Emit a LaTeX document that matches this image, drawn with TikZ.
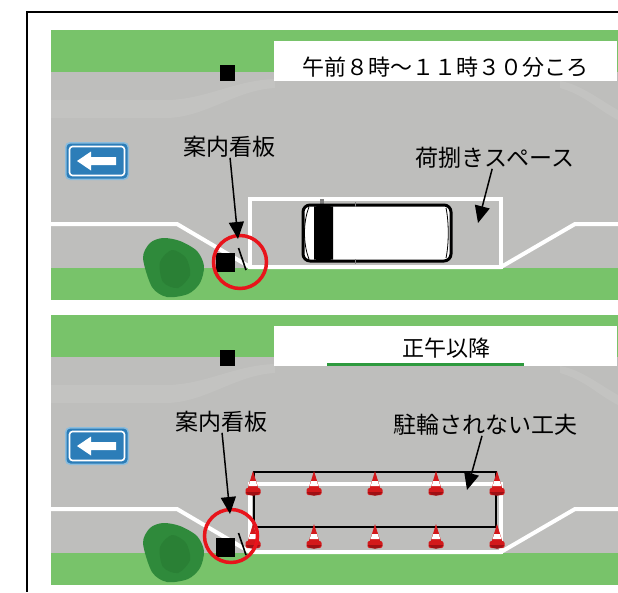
\documentclass[tikz,border=0pt]{standalone}
\usepackage{fontspec}
\newfontfamily\jpfont{Noto Sans CJK JP}
\usetikzlibrary{arrows.meta,positioning,calc}

\definecolor{grass}{HTML}{78C36A}
\definecolor{road}{HTML}{BEBEBC}
\definecolor{roadlight}{HTML}{C3C3C1}
\definecolor{bush}{HTML}{2F8A3B}
\definecolor{bushdark}{HTML}{2A8035}
\definecolor{signblue}{HTML}{2C7DB8}
\definecolor{signrim}{HTML}{8ABCDD}
\definecolor{ringred}{HTML}{E8141B}
\definecolor{conered}{HTML}{D3191B}
\definecolor{conedark}{HTML}{9E1014}
\definecolor{bardark}{HTML}{2E9A3E}

\tikzset{
  note/.style = {font=\jpfont\fontsize{23pt}{25pt}\selectfont, inner sep=0pt},
  titletext/.style = {font=\jpfont\fontsize{22pt}{24pt}\selectfont, inner sep=0pt},
  titlebox/.style = {fill=white, inner sep=0pt, minimum width=343pt, minimum height=40pt},
  kerb/.style = {white, line width=4pt},
  pointer/.style = {-{Triangle[length=17pt,width=15pt]}, line width=1.5pt},
  ring/.style = {circle, draw=ringred, line width=3.5pt, inner sep=0pt, minimum size=53pt},
  pylon/.pic = {
    \fill[conered] (0,0) -- (-5.5,18) -- (5.5,18) -- cycle;
    \fill[conered, rounded corners=2pt] (-7.5,17) rectangle (7.5,24);
    \fill[conedark] (-7.5,21) .. controls (-4,26) and (4,26) .. (7.5,21) -- cycle;
    \fill[white] (-2.8,10) -- (2.8,10) -- (4.3,15) -- (-4.3,15) -- cycle;
  }
}

\begin{document}
\begin{tikzpicture}[x=1pt,y=-1pt]
\useasboundingbox (0,0) rectangle (618,592);
\draw[line width=2pt] (618,11.5) -- (26.5,11.5) -- (26.5,592);

% street plan, drawn once for the morning and once for the afternoon
\foreach \p/\dy in {am/0,pm/285}{
\begin{scope}[shift={(0,\dy)}]
  \fill[grass] (51,30) rectangle (618,300);
  \fill[road] (51,72) rectangle (618,268);
  \fill[roadlight] (51,100) -- (165,100) .. controls (205,100) and (235,80) .. (275,79)
    -- (275,88) .. controls (235,90) and (205,118) .. (165,118) -- (51,118) -- cycle;
  \fill[roadlight] (560,81) .. controls (580,84) and (600,100) .. (618,110) -- (618,120)
    .. controls (598,110) and (585,95) .. (560,88) -- cycle;
  % kerb line and the bay
  \draw[kerb] (51,224) -- (177,224) -- (250,267) -- (501,267) -- (575,224) -- (618,224);
  \draw[kerb, line cap=rect] (250,267) -- (250,199) -- (501,199) -- (501,267);
  % bush, posts
  \fill[bush] plot[smooth cycle] coordinates {(143,258) (150,243) (163,238) (180,241)
    (197,251) (204,266) (200,283) (188,294) (167,297) (152,287)};
  \fill[bushdark] plot[smooth cycle] coordinates {(160,262) (172,250) (186,258)
    (190,275) (178,288) (163,282)};
  \fill (220,65) rectangle (235,81);
  \fill (216,253) rectangle (235,272);
  \draw[line width=1.6pt] (238.5,248) -- (246,270);
  % one-way sign
  \fill[signrim, rounded corners=5pt] (65,142) rectangle (129,180);
  \fill[signblue, rounded corners=4pt] (66.5,143.5) rectangle (127.5,178.5);
  \draw[white, line width=1.6pt, rounded corners=3pt] (69.5,146.5) rectangle (124.5,175.5);
  \fill[white] (77,161) -- (91,151.5) -- (91,157) -- (116,157) -- (116,165) -- (91,165)
    -- (91,170.5) -- cycle;
  \node[titlebox] (title-\p) at (445.5,61) {};
\end{scope}
}

% morning: van in the bay
\fill[gray] (320,199) rectangle (324,204);
\draw[line width=3pt, fill=white, rounded corners=7pt] (303,205) rectangle (451,261);
\fill (314,206.5) .. controls (323,205.5) .. (333,206.5) -- (333,259.5)
  .. controls (323,260.5) .. (314,259.5) -- cycle;
\draw[line width=.8pt] (309,207) .. controls (303,222) and (303,244) .. (309,259);
\draw[line width=.8pt] (446,208) .. controls (449,222) and (449,244) .. (446,258);
\draw[gray, line width=1pt] (355,202) -- (355,207) (355,259) -- (355,264);

\node[titletext] (titletext-am) at (445,67) {午前８時～１１時３０分ころ};
\node[note] (signlabel-am) at (229,147) {案内看板};
\node[note] (baylabel-am) at (495,158) {荷捌きスペース};
\node[ring] (ring-am) at (240,262) {};
\coordinate (board-am) at (238,239);
\coordinate (bay-am) at (478,223);
\draw[pointer] (signlabel-am) -- (board-am);
\draw[pointer] (baylabel-am) -- (bay-am);

% afternoon: cones around the bay
\fill[bardark] (327,363) rectangle (524,366);
\draw[line width=1.5pt] (254,472) rectangle (496,527);
\foreach \x in {253,314,375,436,497}{
  \pic at (\x,471) {pylon};
  \pic at (\x,524) {pylon};
}

\node[titletext] (titletext-pm) at (446,348) {正午以降};
\node[note] (signlabel-pm) at (221,422) {案内看板};
\node[note] (baylabel-pm) at (485,425) {駐輪されない工夫};
\node[ring] (ring-pm) at (231,536) {};
\coordinate (board-pm) at (230,514);
\coordinate (bay-pm) at (467,490);
\draw[pointer] (signlabel-pm) -- (board-pm);
\draw[pointer] (baylabel-pm) -- (bay-pm);
\end{tikzpicture}
\end{document}
